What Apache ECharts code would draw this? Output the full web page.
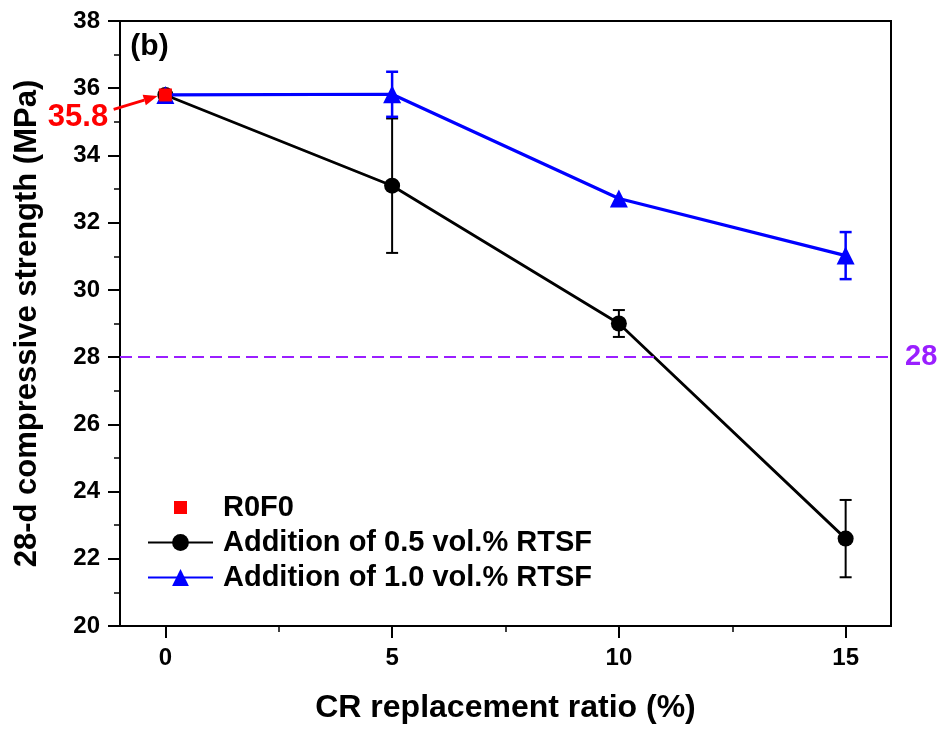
<!DOCTYPE html>
<html>
<head>
<meta charset="utf-8">
<script src="https://cdn.jsdelivr.net/npm/echarts@6/dist/echarts.min.js"></script>
<style>
  html, body { margin: 0; padding: 0; background: #fff; }
  #chart { width: 944px; height: 729px; }
</style>
</head>
<body>
<div id="chart"></div>
<script>
// CR replacement ratio (%) on the x axis
const crRatio = [0, 5, 10, 15];
// Reference mix (no CR, no fibre)
const controlPoint = [[0, 35.8]];
// 28-d compressive strength (MPa), mean and error half-width
const rtsf05Mean = [35.8, 33.1, 29.0, 22.6];
const rtsf05Err  = [0, 2.0, 0.4, 1.15];
const rtsf10Mean = [35.8, 35.82, 32.72, 31.02];
const rtsf10Err  = [0, 0.67, 0, 0.7];
// Target strength line
const targetStrength = 28;
// Axis ticks
const xTickValues = [0, 5, 10, 15];
const xMinorTickValues = [2.5, 7.5, 12.5];

const FONT = 'Liberation Sans, Arial, sans-serif';
const PURPLE = '#9A1FFF';

function errorBarSeries(name, color, width, means, errs) {
  const data = [];
  crRatio.forEach((x, i) => {
    if (errs[i] > 0) data.push([x, means[i] - errs[i], means[i] + errs[i]]);
  });
  return {
    type: 'custom',
    name: name + ' err',
    data: data,
    silent: true,
    z: 3,
    encode: { x: 0, y: [1, 2] },
    renderItem: function (params, api) {
      const x = api.value(0);
      const lo = api.coord([x, api.value(1)]);
      const hi = api.coord([x, api.value(2)]);
      const hw = 6;
      const style = { stroke: color, lineWidth: width };
      return {
        type: 'group',
        children: [
          { type: 'line', shape: { x1: lo[0], y1: lo[1], x2: hi[0], y2: hi[1] }, style: style },
          { type: 'line', shape: { x1: hi[0] - hw, y1: hi[1], x2: hi[0] + hw, y2: hi[1] }, style: style },
          { type: 'line', shape: { x1: lo[0] - hw, y1: lo[1], x2: lo[0] + hw, y2: lo[1] }, style: style }
        ]
      };
    }
  };
}

const chart = echarts.init(document.getElementById('chart'), null, { renderer: 'canvas' });

const option = {
  animation: false,
  backgroundColor: '#fff',
  grid: {
    left: 120, top: 21, right: 53, bottom: 101,
    show: true, borderColor: '#000', borderWidth: 2, backgroundColor: 'transparent'
  },
  xAxis: [
    {
      type: 'value', min: -1, max: 16,
      name: 'CR replacement ratio (%)',
      nameLocation: 'middle', nameGap: 66,
      nameTextStyle: { fontFamily: FONT, fontWeight: 'bold', fontSize: 32, color: '#000' },
      axisLine: { show: true, onZero: false, lineStyle: { color: '#000', width: 2 } },
      axisTick: { show: true, customValues: xTickValues, length: 12, lineStyle: { color: '#000', width: 2 } },
      axisLabel: { show: true, customValues: xTickValues, margin: 20, fontFamily: FONT, fontWeight: 'bold', fontSize: 24, color: '#000' },
      splitLine: { show: false }
    },
    {
      type: 'value', min: -1, max: 16, position: 'bottom',
      axisLine: { show: false, onZero: false },
      axisTick: { show: true, customValues: xMinorTickValues, length: 6, lineStyle: { color: '#000', width: 1.5 } },
      axisLabel: { show: false },
      splitLine: { show: false }
    }
  ],
  yAxis: {
    type: 'value', min: 20, max: 38, interval: 2,
    name: '28-d compressive strength (MPa)',
    nameLocation: 'middle', nameGap: 77,
    nameTextStyle: { fontFamily: FONT, fontWeight: 'bold', fontSize: 31, color: '#000' },
    axisLine: { show: true, onZero: false, lineStyle: { color: '#000', width: 2 } },
    axisTick: { show: true, length: 12, lineStyle: { color: '#000', width: 2 } },
    minorTick: { show: true, splitNumber: 2, length: 6, lineStyle: { color: '#000', width: 1.5 } },
    axisLabel: { margin: 20, fontFamily: FONT, fontWeight: 'bold', fontSize: 24, color: '#000' },
    splitLine: { show: false }
  },
  legend: {
    orient: 'vertical',
    left: 142, top: 488,
    itemWidth: 65, itemHeight: 21, itemGap: 6,
    textStyle: { fontFamily: FONT, fontWeight: 'bold', fontSize: 29, color: '#000', padding: [0, 0, 0, 5] },
    data: [
      { name: 'R0F0', icon: 'path://M0,0M21,21M4,4L17,4L17,17L4,17Z' },
      { name: 'Addition of 0.5 vol.% RTSF' },
      { name: 'Addition of 1.0 vol.% RTSF' }
    ]
  },
  series: [
    errorBarSeries('0.5', '#000', 2, rtsf05Mean, rtsf05Err),
    {
      name: 'Addition of 0.5 vol.% RTSF',
      type: 'line',
      data: crRatio.map((x, i) => [x, rtsf05Mean[i]]),
      symbol: 'circle', symbolSize: 16,
      itemStyle: { color: '#000' },
      lineStyle: { color: '#000', width: 2.8 },
      z: 4,
      markLine: {
        silent: true, symbol: 'none',
        lineStyle: { color: PURPLE, type: [12, 6], width: 2 },
        label: { show: true, position: 'end', distance: 14, formatter: String(targetStrength),
                 color: PURPLE, fontFamily: FONT, fontWeight: 'bold', fontSize: 29 },
        data: [{ yAxis: targetStrength }]
      }
    },
    errorBarSeries('1.0', '#0000FF', 2.5, rtsf10Mean, rtsf10Err),
    {
      name: 'Addition of 1.0 vol.% RTSF',
      type: 'line',
      data: crRatio.map((x, i) => [x, rtsf10Mean[i]]),
      symbol: 'triangle', symbolSize: 18,
      itemStyle: { color: '#0000FF' },
      lineStyle: { color: '#0000FF', width: 3.2 },
      z: 5
    },
    {
      name: 'R0F0',
      type: 'scatter',
      data: controlPoint,
      symbol: 'rect', symbolSize: 13, symbolKeepAspect: true,
      itemStyle: { color: '#FF0000', opacity: 1 },
      z: 6
    }
  ]
};

chart.setOption(option);

// Panel tag, and the callout naming the reference strength
const toPx = (p) => chart.convertToPixel({ xAxisIndex: 0, yAxisIndex: 0 }, p);
const tagPos = toPx([-0.35, 37.22]);
const arrowFrom = toPx([-1.14, 35.37]);
const arrowTo = toPx([-0.17, 35.77]);
const labelPos = toPx([-1.26, 35.12]);

const dx = arrowTo[0] - arrowFrom[0], dy = arrowTo[1] - arrowFrom[1];
const len = Math.sqrt(dx * dx + dy * dy), ux = dx / len, uy = dy / len;
const headLen = 14, headHalf = 5.5;
const baseX = arrowTo[0] - ux * headLen, baseY = arrowTo[1] - uy * headLen;

chart.setOption({
  graphic: [
    { type: 'text', x: tagPos[0], y: tagPos[1],
      style: { text: '(b)', fill: '#000', font: 'bold 30px ' + FONT, align: 'center', verticalAlign: 'middle' } },
    { type: 'line', shape: { x1: arrowFrom[0], y1: arrowFrom[1], x2: baseX, y2: baseY },
      style: { stroke: '#FF0000', lineWidth: 2.8 }, z: 10 },
    { type: 'polygon',
      shape: { points: [
        [arrowTo[0], arrowTo[1]],
        [baseX - uy * headHalf, baseY + ux * headHalf],
        [baseX + uy * headHalf, baseY - ux * headHalf]
      ] },
      style: { fill: '#FF0000' }, z: 10 },
    { type: 'text', x: labelPos[0], y: labelPos[1],
      style: { text: '35.8', fill: '#FF0000', font: 'bold 31px ' + FONT, align: 'right', verticalAlign: 'middle' }, z: 10 }
  ]
});
</script>
</body>
</html>
